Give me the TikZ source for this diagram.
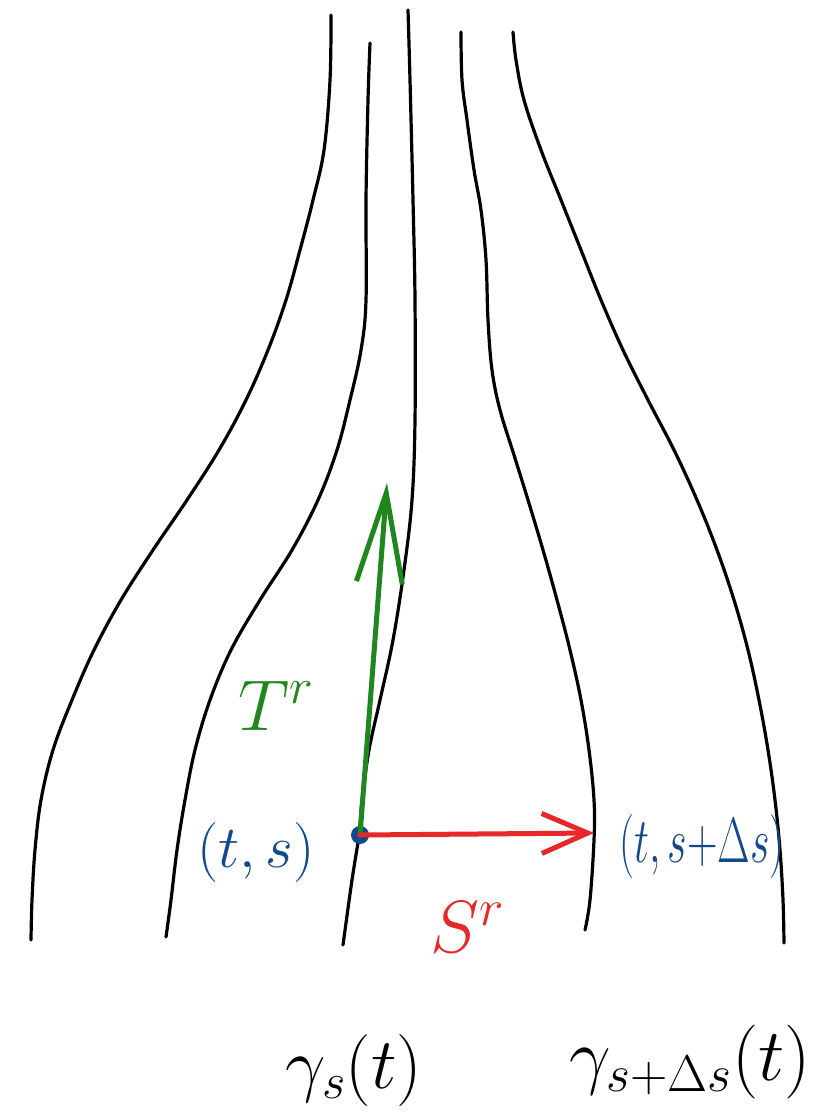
\RequirePackage{fix-cm}
\documentclass[tikz,border=0pt]{standalone}
\usepackage{graphicx}
\usetikzlibrary{arrows.meta}
\definecolor{hgreen}{RGB}{30,135,30}
\definecolor{hred}{RGB}{232,40,40}
\definecolor{hblue}{RGB}{18,72,140}
\begin{document}
\begin{tikzpicture}[x=1pt,y=-1pt,
  curve/.style={draw=black,line width=3.2pt,line cap=round,line join=round},
  lbl/.style={inner sep=0pt},
  vecT/.style={draw=hgreen,line width=5pt,line cap=round,-{Straight Barb[length=90pt,width=46pt,line width=5pt]}},
  vecS/.style={draw=hred,line width=5pt,line cap=round,-{Straight Barb[length=46pt,width=40pt,line width=5pt]}}]
\useasboundingbox (0,0) rectangle (838,1116);
% curves gamma
\draw[curve] plot[smooth,tension=0.6] coordinates {(331,15) (330,80) (324,150) (313,200) (300,250) (286,300) (268,350) (246,400) (219,450) (187,500) (153,550) (121,600) (94,650) (72,700) (53,750) (41,800) (35,850) (32,900) (31,940)};
\draw[curve] plot[smooth,tension=0.6] coordinates {(370,43) (368,100) (366,200) (366,300) (361,350) (350,400) (337,450) (318,500) (292,550) (260,600) (231,650) (210,700) (195,750) (185,800) (177,850) (171,900) (166,937)};
\draw[curve] plot[smooth,tension=0.6] coordinates {(408,10) (410,80) (413,200) (415,300) (415,420) (412,500) (404,570) (393,640) (380,700) (369,750) (362,800) (359,835) (352,880) (343,945)};
\draw[curve] plot[smooth,tension=0.6] coordinates {(461,32) (462,80) (467,120) (474,170) (481,210) (486,260) (488,320) (492,370) (500,410) (514,455) (528,500) (543,550) (557,600) (570,650) (581,700) (589,750) (594,800) (594,840) (590,900) (585,930)};
\draw[curve] plot[smooth,tension=0.6] coordinates {(513,32) (516,60) (524,100) (541,150) (561,200) (581,250) (601,300) (623,350) (648,400) (674,450) (697,500) (717,550) (734,600) (748,650) (759,700) (768,750) (775,800) (780,850) (783,900) (784,943)};
% point and vectors
\node[circle,fill=hblue,minimum size=18pt,inner sep=0pt] (p) at (360,835) {};
\coordinate (tT) at (387,483);
\coordinate (tS) at (594,833);
\draw[vecT] (p.center) -- (tT);
\draw[vecS] (p.center) -- (tS);
% labels
\node[lbl,text=hgreen,anchor=base west,font=\fontsize{72}{76}\selectfont] (Tlbl) at (238,730) {$T^{r}$};
\node[lbl,text=hred,anchor=base west,font=\fontsize{74}{78}\selectfont] (Slbl) at (430,952) {$S^{r}$};
\node[lbl,text=hblue,anchor=base,font=\fontsize{60}{64}\selectfont] (ts) at (256,867) {$(t,s)$};
\node[lbl,text=hblue,anchor=base,font=\fontsize{64}{68}\selectfont] (tsds) at (702,862) {\scalebox{0.66}[1]{$(t,s{+}\Delta s)$}};
\node[lbl,anchor=base,font=\fontsize{72}{76}\selectfont] (g1) at (354,1088) {$\gamma_s(t)$};
\node[lbl,anchor=base,font=\fontsize{74}{78}\selectfont] (g2) at (690,1080) {$\gamma_{s+\Delta s}(t)$};
\end{tikzpicture}
\end{document}
